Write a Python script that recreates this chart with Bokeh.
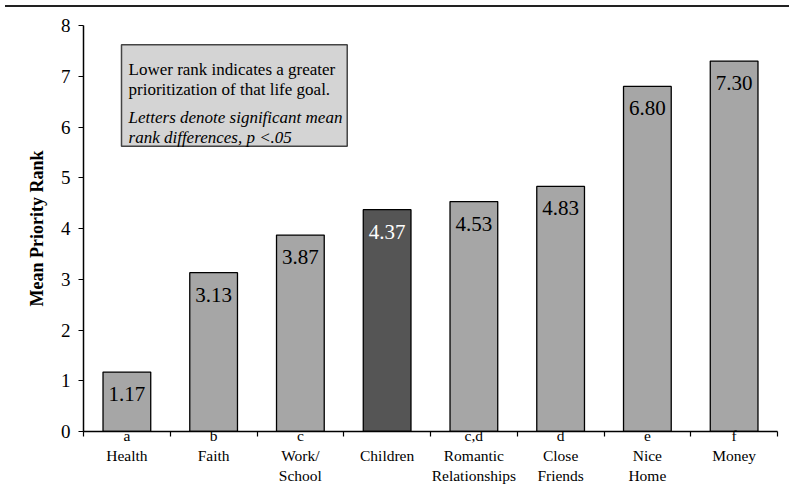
from bokeh.plotting import figure
from bokeh.models import FixedTicker, BoxAnnotation, Label, Div, ColumnDataSource, Range1d
from bokeh.layouts import column
from bokeh.core.properties import value
from bokeh.embed import file_html
from bokeh.resources import INLINE

# ---- data ----
goals = ["Health", "Faith", "Work/\nSchool", "Children", "Romantic\nRelationships",
         "Close\nFriends", "Nice\nHome", "Money"]
letters = ["a", "b", "c", "\u00a0", "c,d", "d", "e", "f"]
ranks = [1.17, 3.13, 3.87, 4.37, 4.53, 4.83, 6.80, 7.30]
highlight = [False, False, False, True, False, False, False, False]
y_ticks = [0, 1, 2, 3, 4, 5, 6, 7, 8]
note_lines = ["Lower rank indicates a greater", "prioritization of that life goal."]
note_italic = ["Letters denote significant mean", "rank differences, p <.05"]

SERIF = "Liberation Serif"
n = len(goals)
centers = [i + 0.5 for i in range(n)]
bounds = [float(i) for i in range(n + 1)]
fills = ["#555555" if h else "#a6a6a6" for h in highlight]
tcolors = ["white" if h else "black" for h in highlight]

src = ColumnDataSource(dict(x=centers, top=ranks, fill=fills, tc=tcolors,
                            lab=["%.2f" % r for r in ranks]))

p = figure(output_backend="svg", toolbar_location=None,
           width=784, height=484,
           min_border_left=83, min_border_right=7, min_border_top=13, min_border_bottom=65,
           x_range=Range1d(0, n), y_range=Range1d(0, 8))
p.outline_line_color = None
p.xgrid.visible = False
p.ygrid.visible = False

p.vbar(x="x", top="top", width=0.55, bottom=0, source=src,
       fill_color="fill", line_color="black", line_width=1.3)
p.text(x="x", y="top", text="lab", source=src, text_color="tc",
       text_align="center", text_baseline="middle", y_offset=22,
       text_font=value(SERIF), text_font_size="21px")

# annotation box
p.add_layout(BoxAnnotation(left=0.438, right=3.04, top=7.62, bottom=5.62,
                           fill_color="#d4d4d4", fill_alpha=1.0,
                           line_color="#444444", line_alpha=1.0, line_width=1.5,
                           level="underlay"))
for txt, yy in zip(note_lines, [7.14, 6.745]):
    p.add_layout(Label(x=0.519, y=yy, text=txt, text_font=SERIF, text_font_size="17px",
                       text_baseline="alphabetic", text_color="black"))
for txt, yy in zip(note_italic, [6.195, 5.80]):
    p.add_layout(Label(x=0.519, y=yy, text=txt, text_font=SERIF, text_font_size="17px",
                       text_font_style="italic", text_baseline="alphabetic",
                       text_color="black"))

# y axis
ya = p.yaxis[0]
ya.ticker = FixedTicker(ticks=y_ticks)
ya.axis_line_color = "black"
ya.axis_line_width = 1.5
ya.major_tick_in = 0
ya.major_tick_out = 5
ya.major_tick_line_width = 1.2
ya.minor_tick_line_color = None
ya.major_label_text_font = SERIF
ya.major_label_text_font_size = "19px"
ya.major_label_text_color = "black"
ya.major_label_standoff = 8
ya.axis_label = "Mean Priority Rank"
ya.axis_label_text_font = SERIF
ya.axis_label_text_font_style = "bold"
ya.axis_label_text_font_size = "18px"
ya.axis_label_text_color = "black"
ya.axis_label_standoff = 11

# x axis
xa = p.xaxis[0]
xa.ticker = FixedTicker(ticks=centers, minor_ticks=bounds)
xa.major_label_overrides = {c: l + "\n" + g for c, l, g in zip(centers, letters, goals)}
xa.axis_line_color = "black"
xa.axis_line_width = 1.5
xa.major_tick_in = 0
xa.major_tick_out = 0
xa.minor_tick_in = 0
xa.minor_tick_out = 5
xa.minor_tick_line_color = "black"
xa.minor_tick_line_width = 1.2
xa.major_label_text_font = SERIF
xa.major_label_text_font_size = "15.5px"
xa.major_label_text_color = "black"
xa.major_label_standoff = -10

rule = Div(text="", width=784, height=2, styles={"background-color": "#222222"})
layout = column(rule, p, spacing=0)

open("out.html", "w").write(file_html(layout, INLINE))
